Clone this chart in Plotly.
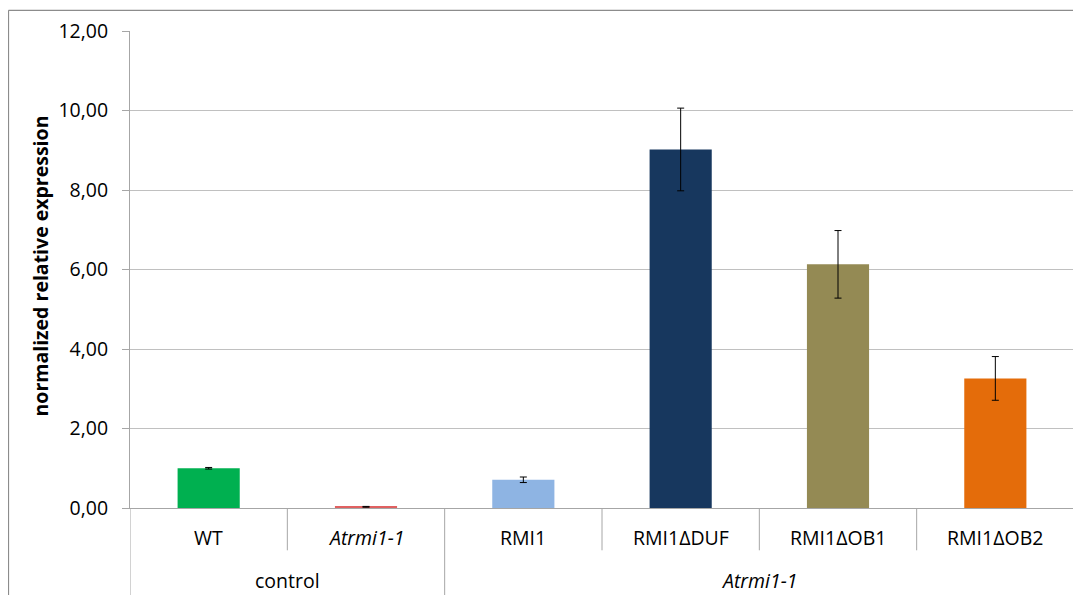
import plotly.graph_objects as go

categories = ["WT", "<i>Atrmi1-1</i>", "RMI1", "RMI1ΔDUF", "RMI1ΔOB1", "RMI1ΔOB2"]
groups = ["control", "<i>Atrmi1-1</i>"]
group_sizes = [2, 4]
values = [1.00, 0.03, 0.71, 9.02, 6.13, 3.26]
errors = [0.02, 0.01, 0.07, 1.04, 0.85, 0.55]
colors = ["#00B050", "#E06060", "#8EB4E3", "#17375E", "#948A54", "#E46C0A"]
y_ticks = [0, 2, 4, 6, 8, 10, 12]

FONT = "Open Sans"
GRID = "#C0C0C0"
AXIS = "#A6A6A6"

xs = list(range(len(categories)))

fig = go.Figure()
fig.add_trace(go.Bar(
    x=xs, y=values, width=0.395,
    marker=dict(color=colors, line=dict(width=0)),
    error_y=dict(type="data", array=errors, visible=True,
                 color="black", thickness=1, width=3.5),
    hoverinfo="skip", showlegend=False,
))

shapes = []
boundaries = []
pos = -0.5
for n in group_sizes:
    pos += n
    boundaries.append(pos)
for i in range(1, len(categories)):
    b = i - 0.5
    if b in boundaries:
        continue
    shapes.append(dict(type="line", xref="x", yref="paper", x0=b, x1=b,
                       y0=0, y1=-0.0887, line=dict(color=AXIS, width=1)))
for b in [-0.5] + boundaries:
    shapes.append(dict(type="line", xref="x", yref="paper", x0=b, x1=b,
                       y0=0, y1=-0.25, line=dict(color=AXIS, width=1)))
# outer chart border (left and top)
shapes.append(dict(type="line", xref="paper", yref="paper", x0=-0.1287, x1=-0.1287,
                   y0=1.0434, y1=-0.25, line=dict(color="#8C8C8C", width=1.2)))
shapes.append(dict(type="line", xref="paper", yref="paper", x0=-0.1287, x1=1.02,
                   y0=1.0434, y1=1.0434, line=dict(color="#8C8C8C", width=1.2)))

annotations = []
for i, c in enumerate(categories):
    annotations.append(dict(x=i, y=-0.0614, xref="x", yref="paper", text=c,
                            showarrow=False, font=dict(family=FONT, size=19.5, color="black"),
                            yanchor="middle"))
start = -0.5
for g, n in zip(groups, group_sizes):
    center = start + n / 2
    annotations.append(dict(x=center, y=-0.152, xref="x", yref="paper", text=g,
                            showarrow=False, font=dict(family=FONT, size=19.5, color="black"),
                            yanchor="middle"))
    start += n
annotations.append(dict(x=-0.095, y=0.507, xref="paper", yref="paper",
                        text="<b>normalized relative expression</b>", textangle=-90,
                        showarrow=False, font=dict(family=FONT, size=19.5, color="black"),
                        xanchor="center", yanchor="middle"))

fig.update_layout(
    width=1073, height=587,
    margin=dict(l=122, r=7, t=23, b=87, autoexpand=False),
    paper_bgcolor="white", plot_bgcolor="white",
    separators=",.",
    shapes=shapes, annotations=annotations,
    bargap=0.6,
)
fig.update_xaxes(range=[-0.5, 5.5], showticklabels=False, showgrid=False,
                 zeroline=False, showline=True, linecolor=AXIS, linewidth=1,
                 ticks="", fixedrange=True)
fig.update_yaxes(range=[0, 12], tickvals=y_ticks, tickformat=".2f",
                 showgrid=True, gridcolor=GRID, gridwidth=1,
                 zeroline=False, showline=True, linecolor=AXIS, linewidth=1,
                 ticks="outside", ticklen=7, tickcolor=AXIS,
                 ticklabelstandoff=10,
                 tickfont=dict(family=FONT, size=19.5, color="black"),
                 fixedrange=True)

fig.write_html("out.html")
